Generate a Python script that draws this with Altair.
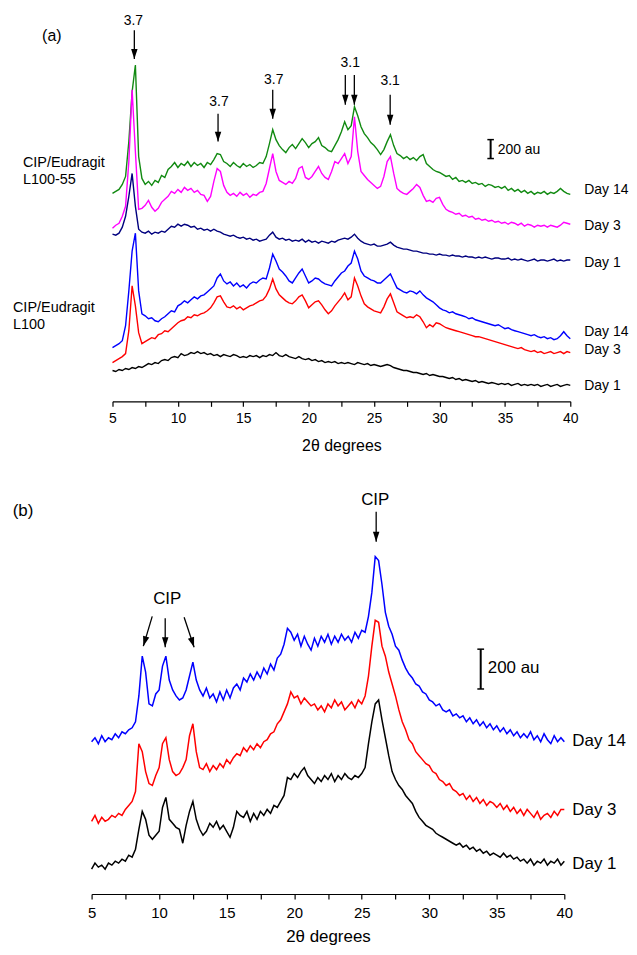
import altair as alt
import pandas as pd

FONT = "Liberation Sans"
START = 5.0      # first 2-theta value of every trace (degrees)
STEP = 0.25      # sampling step of every trace (degrees)

# ---------------- Panel (a): intensities (au), 5..40 deg every 0.25 deg ----------------
a_l10055_day14 = [
    2080, 2100, 2120, 2170, 2250, 2600, 3100, 3370, 2450, 2230, 2170, 2200, 2160, 2210, 2190, 2260, 2240, 2320, 2350, 2390,
    2340, 2380, 2360, 2400, 2350, 2390, 2360, 2380, 2340, 2390, 2370, 2420, 2480, 2470, 2400, 2380, 2350, 2390, 2360, 2340,
    2380, 2350, 2370, 2340, 2360, 2390, 2380, 2450, 2580, 2720, 2620, 2560, 2520, 2490, 2540, 2570, 2530, 2580, 2630, 2590,
    2540, 2580, 2600, 2640, 2560, 2540, 2510, 2500, 2560, 2620, 2700, 2800, 2720, 2760, 2950, 2860, 2750, 2680, 2640, 2590,
    2560, 2520, 2470, 2520, 2600, 2670, 2560, 2480, 2460, 2430, 2450, 2420, 2440, 2410, 2450, 2470, 2380, 2350, 2320, 2300,
    2290, 2270, 2250, 2260, 2220, 2240, 2200, 2210, 2190, 2210, 2180, 2190, 2170, 2180, 2150, 2170, 2160, 2140, 2150, 2130,
    2150, 2110, 2130, 2100, 2120, 2090, 2110, 2080, 2100, 2070, 2090, 2080, 2100, 2070, 2090, 2080, 2100, 2130, 2100, 2080,
    2070]
a_l10055_day3 = [
    1730, 1760, 1780, 1850, 1950, 2400, 3120, 2500, 1920, 1930, 1960, 2010, 1940, 1900, 1930, 1990, 2020, 2050, 2100, 2080,
    2120, 2090, 2140, 2110, 2130, 2090, 2110, 2070, 2060, 2000, 2050, 2200, 2330, 2300, 2160, 2090, 2060, 2080, 2050, 2090,
    2060, 2080, 2040, 2070, 2060, 2090, 2100, 2180, 2330, 2480, 2300, 2210, 2190, 2170, 2200, 2180, 2230, 2330, 2350, 2240,
    2220, 2250, 2300, 2350, 2280, 2240, 2220, 2300, 2400, 2380, 2430, 2480, 2380, 2450, 2850, 2500, 2300, 2260, 2220, 2190,
    2160, 2130, 2150, 2250, 2400, 2450, 2280, 2130, 2100, 2080, 2070, 2100, 2130, 2170, 2140, 2060, 2000, 2010, 1990, 2030,
    2040, 1970, 1920, 1900, 1890, 1870, 1880, 1850, 1860, 1840, 1850, 1820, 1830, 1810, 1820, 1800, 1810, 1790, 1800, 1780,
    1790, 1770, 1790, 1780, 1760, 1780, 1750, 1770, 1760, 1740, 1760, 1750, 1760, 1740, 1760, 1750, 1740, 1760, 1790, 1780,
    1770]
a_l10055_day1 = [
    1670, 1660, 1680, 1740, 1850, 2050, 2280, 1950, 1720, 1690, 1680, 1700, 1670, 1690, 1680, 1700, 1690, 1720, 1750, 1740,
    1770, 1750, 1770, 1760, 1740, 1750, 1720, 1730, 1710, 1720, 1700, 1720, 1700, 1690, 1670, 1660, 1650, 1660, 1640, 1630,
    1640, 1620, 1630, 1610, 1620, 1600, 1610, 1620, 1660, 1690, 1640, 1620, 1630, 1610, 1620, 1600, 1610, 1600, 1620, 1590,
    1610, 1590, 1600, 1580, 1600, 1590, 1580, 1600, 1590, 1610, 1620, 1630, 1620, 1640, 1670, 1630, 1600, 1580, 1570, 1560,
    1570, 1550, 1550, 1560, 1570, 1590, 1560, 1540, 1530, 1520, 1520, 1510, 1500, 1500, 1490, 1480, 1480, 1470, 1470, 1460,
    1470, 1460, 1460, 1450, 1460, 1450, 1450, 1440, 1450, 1440, 1440, 1430, 1440, 1430, 1440, 1430, 1420, 1430, 1430, 1420,
    1420, 1430, 1410, 1420, 1410, 1420, 1410, 1400, 1410, 1420, 1400, 1410, 1410, 1400, 1410, 1420, 1400, 1410, 1400, 1410,
    1410]
a_l100_day14 = [
    530, 550, 570, 600, 750, 1100, 1500, 1680, 1100, 870, 850, 820, 830, 800, 790, 820, 840, 870, 900, 890,
    950, 970, 1000, 980, 1010, 1040, 1020, 1050, 1060, 1090, 1120, 1150, 1230, 1270, 1200, 1170, 1190, 1150, 1180, 1140,
    1160, 1130, 1170, 1190, 1180, 1210, 1230, 1220, 1330, 1470, 1400, 1320, 1290, 1250, 1200, 1180, 1230, 1280, 1320, 1250,
    1180, 1200, 1230, 1220, 1190, 1170, 1160, 1150, 1200, 1240, 1280, 1300, 1350, 1380, 1500, 1420, 1300, 1250, 1230, 1210,
    1200, 1180, 1180, 1210, 1240, 1270, 1200, 1130, 1110, 1090, 1080, 1100, 1090, 1070, 1100, 1060, 1030, 1010, 990, 960,
    930, 910, 900, 880, 890, 870, 860, 850, 840, 820, 830, 810, 800, 790, 780, 770, 760, 750, 760, 740,
    720, 730, 710, 700, 690, 680, 670, 660, 650, 660, 640, 630, 640, 620, 630, 610, 620, 650, 690, 650,
    620]
a_l100_day3 = [
    380, 400, 420, 440, 470, 700, 1150, 950, 680, 570, 590, 610, 630, 620, 660, 670, 700, 690, 720, 750,
    780, 800, 810, 840, 830, 860, 850, 870, 880, 900, 930, 980, 1040, 1050, 990, 940, 930, 950, 920, 940,
    910, 930, 950, 960, 980, 1000, 1010, 1050, 1120, 1220, 1120, 1060, 1030, 1000, 980, 970, 1000, 1040, 1060, 1000,
    930, 960, 990, 1000, 960, 910, 870, 900, 950, 990, 1030, 1080, 1010, 1040, 1230, 1150, 1050, 970, 940, 920,
    900, 890, 880, 940, 1020, 1070, 980, 890, 870, 850, 830, 840, 830, 860, 840, 790, 730, 760, 740, 780,
    770, 750, 730, 720, 710, 700, 690, 680, 670, 660, 650, 640, 640, 630, 620, 610, 600, 590, 580, 570,
    560, 550, 540, 530, 520, 530, 510, 500, 490, 500, 480, 490, 470, 480, 490, 470, 480, 490, 470, 490,
    480]
a_l100_day1 = [
    300, 290, 310, 300, 320, 310, 330, 320, 340, 330, 350, 370, 360, 380, 370, 400, 410, 400, 430, 440,
    430, 470, 450, 460, 480, 470, 490, 470, 480, 460, 470, 450, 460, 440, 460, 450, 440, 460, 450, 430,
    440, 430, 450, 440, 450, 430, 450, 440, 460, 450, 480, 450, 440, 460, 440, 430, 420, 440, 420, 410,
    420, 400, 410, 390, 400, 380, 390, 380, 390, 370, 380, 370, 380, 370, 360, 380, 370, 360, 370, 350,
    360, 350, 340, 350, 360, 350, 330, 320, 310, 300, 300, 290, 280, 280, 270, 260, 270, 250, 260, 250,
    240, 240, 230, 220, 230, 210, 220, 200, 210, 200, 190, 200, 180, 190, 180, 170, 180, 170, 160, 170,
    160, 170, 150, 160, 170, 150, 160, 150, 160, 150, 160, 140, 150, 160, 140, 150, 160, 140, 150, 160,
    150]

# ---------------- Panel (b): intensities (au), 5..40 deg every 0.25 deg ----------------
b_day14 = [
    770, 790, 760, 800, 770, 790, 780, 810, 790, 820, 810, 830, 840, 870, 1000, 1200, 1120, 960, 950, 1010,
    1030, 1150, 1200, 1080, 1030, 1000, 980, 990, 1030, 1100, 1170, 1080, 1030, 1000, 1040, 990, 1010, 970, 1020, 980,
    1030, 990, 1040, 1060, 1030, 1090, 1070, 1110, 1080, 1120, 1090, 1140, 1110, 1160, 1130, 1190, 1210, 1260, 1340, 1320,
    1280, 1310, 1250, 1300, 1260, 1230, 1290, 1250, 1300, 1270, 1310, 1260, 1300, 1270, 1310, 1280, 1300, 1270, 1320, 1290,
    1330, 1320, 1400, 1520, 1700, 1680, 1560, 1420, 1350, 1310, 1250, 1230, 1180, 1140, 1110, 1090, 1060, 1050, 1020, 1010,
    980, 970, 950, 960, 930, 920, 930, 900, 910, 890, 900, 870, 890, 860, 880, 850, 870, 840, 860, 830,
    850, 820, 840, 810, 830, 800, 820, 790, 810, 790, 820, 780, 800, 770, 810, 780, 760, 800, 770, 790,
    770]
b_day3 = [
    370, 400, 360, 390, 370, 380, 400, 390, 410, 400, 430, 450, 470, 520, 760, 720, 620, 560, 550, 600,
    640, 760, 790, 680, 620, 600, 610, 640, 680, 800, 860, 720, 640, 630, 660, 620, 650, 630, 660, 640,
    680, 660, 690, 710, 700, 740, 720, 750, 730, 760, 740, 770, 780, 810, 820, 860, 880, 920, 960, 1020,
    990, 1000, 960, 990, 970, 950, 960, 930, 950, 920, 960, 940, 980, 950, 970, 930, 950, 970, 940, 980,
    960, 1000, 1100, 1250, 1380, 1370, 1250, 1200, 1120, 1060, 1000, 930, 870, 830, 780, 760, 720, 700, 680, 660,
    650, 620, 610, 580, 570, 550, 560, 530, 520, 500, 510, 480, 500, 470, 490, 460, 480, 450, 470, 460,
    440, 460, 430, 450, 420, 440, 410, 430, 400, 430, 410, 390, 420, 380, 400, 410, 390, 420, 400, 430,
    430]
b_day1 = [
    130, 160, 140, 150, 130, 160, 150, 170, 160, 180, 170, 200, 190, 230, 330, 420, 380, 300, 280, 300,
    320, 440, 490, 380, 360, 340, 330, 260, 350, 420, 470, 380, 330, 300, 320, 360, 340, 370, 330, 350,
    320, 290, 340, 420, 400, 390, 420, 370, 410, 380, 420, 400, 430, 410, 450, 440, 470, 500, 590, 580,
    610, 590, 620, 640, 600, 580, 560, 590, 570, 600, 580, 610, 570, 600, 580, 610, 590, 580, 600, 590,
    610, 640, 760, 870, 960, 980, 880, 790, 700, 620, 580, 550, 530, 500, 480, 460, 420, 390, 370, 350,
    340, 330, 310, 300, 290, 280, 270, 260, 250, 260, 240, 250, 230, 240, 220, 230, 210, 220, 200, 210,
    200, 190, 210, 190, 200, 180, 190, 170, 180, 160, 180, 150, 170, 160, 180, 150, 170, 160, 180, 150,
    170]

# series names and colours
a_series = ["L100-55 Day 14", "L100-55 Day 3", "L100-55 Day 1", "L100 Day 14", "L100 Day 3", "L100 Day 1"]
a_colors = ["#118a11", "#ff00ff", "#00007f", "#0000ff", "#ff0000", "#000000"]
b_series = ["Day 14", "Day 3", "Day 1"]
b_colors = ["#0000ff", "#ff0000", "#000000"]

# x-axis tick positions (labels only at multiples of 5)
tick_values = [5, 7.5, 10, 12.5, 15, 17.5, 20, 22.5, 25, 27.5, 30, 32.5, 35, 37.5, 40]

# ---------------- annotations (data units: degrees, au) ----------------
a_peak_text = ["3.7", "3.7", "3.7", "3.1", "3.1"]
a_peak_text_deg = [6.6, 13.14, 17.33, 23.18, 26.23]
a_peak_text_au = [3810, 3000, 3220, 3390, 3210]
a_arrow_deg = [6.67, 13.07, 17.25, 22.8, 23.49, 26.23]
a_arrow_top = [3720, 2880, 3120, 3270, 3270, 3070]
a_arrow_tip = [3430, 2600, 2830, 2970, 2970, 2770]

a_day_text = ["Day 14", "Day 3", "Day 1", "Day 14", "Day 3", "Day 1"]
a_day_au = [2110, 1750, 1380, 690, 510, 140]
a_group_text = ["CIP/Eudragit", "L100-55", "CIP/Eudragit", "L100"]
a_group_deg = [-1.85, -1.85, -2.61, -2.61]
a_group_au = [2390, 2210, 930, 760]

b_cip_text = ["CIP", "CIP"]
b_cip_deg = [26.0, 10.6]
b_cip_au = [1985, 1485]
b_arrow_deg = [26.07, 9.49, 10.45, 11.85]
b_arrow_deg2 = [26.07, 8.83, 10.45, 12.59]
b_arrow_top = [1925, 1400, 1390, 1395]
b_arrow_tip = [1775, 1250, 1245, 1245]
b_arrow_angle = [0, 16.7, 0, 341.6]
b_day_au = [775, 425, 155]

ARROW = "M -0.65 -2 L 0.65 -2 L 0 0 Z"


def trace(vals, name):
    return pd.DataFrame({"deg": [START + STEP * i for i in range(len(vals))],
                         "au": vals, "series": name})


def axis_x(label_size, title_size, label_pad, title_pad):
    return alt.Axis(values=tick_values,
                    labelExpr="datum.value % 5 === 0 ? datum.label : ''",
                    title="2θ degrees", grid=False, tickSize=5, tickWidth=1.2,
                    domainWidth=1.2, tickColor="black", domainColor="black",
                    labelColor="black", titleColor="black", labelFont=FONT,
                    titleFont=FONT, labelFontSize=label_size, titleFontSize=title_size,
                    titleFontWeight="normal", labelPadding=label_pad,
                    titlePadding=title_pad, labelOverlap=False, labelFlush=False)


class Panel:
    def __init__(self, xs, ys, axis):
        self.xs, self.ys, self.axis = xs, ys, axis

    def X(self):
        return alt.X("deg:Q", scale=self.xs, axis=self.axis)

    def Y(self, field="au"):
        return alt.Y(field + ":Q", scale=self.ys, axis=None)

    def text(self, df, size, align="center"):
        return alt.Chart(df).mark_text(font=FONT, fontSize=size, align=align,
                                       baseline="middle", color="black").encode(
            x=self.X(), y=self.Y(), text="label:N")

    def scale_bar(self, deg, au_top, au_bot, text_deg, text_au, size):
        bar = pd.DataFrame({"deg": [deg], "au": [au_top], "au2": [au_bot]})
        caps = pd.DataFrame({"deg": [deg - 0.25, deg - 0.25], "deg2": [deg + 0.25, deg + 0.25],
                             "au": [au_top, au_bot]})
        lab = pd.DataFrame({"deg": [text_deg], "au": [text_au], "label": ["200 au"]})
        v = alt.Chart(bar).mark_rule(color="black", strokeWidth=2).encode(
            x=self.X(), y=self.Y(), y2="au2:Q")
        h = alt.Chart(caps).mark_rule(color="black", strokeWidth=1.5).encode(
            x=self.X(), x2="deg2:Q", y=self.Y())
        return v + h + self.text(lab, size, "left")

    def arrows(self, df):
        # df: deg (start x), deg2 (tip x), au (start y), au2 (tip y), ang
        shafts = alt.Chart(df).mark_rule(color="black", strokeWidth=1.3).encode(
            x=self.X(), x2="deg2:Q", y=self.Y(), y2="au2:Q")
        heads_df = pd.DataFrame({"deg": df["deg2"], "au": df["au2"], "ang": df["ang"]})
        heads = alt.Chart(heads_df).mark_point(shape=ARROW, filled=True, size=100, color="black",
                                               opacity=1, strokeWidth=0).encode(
            x=self.X(), y=self.Y(), angle=alt.Angle("ang:Q", scale=None))
        return shafts + heads

    def lines(self, df, domain, colors, width):
        return alt.Chart(df).mark_line(strokeWidth=width).encode(
            x=self.X(), y=self.Y(),
            color=alt.Color("series:N", scale=alt.Scale(domain=domain, range=colors), legend=None),
            detail="series:N")


# ================= Panel (a) =================
pa = Panel(alt.Scale(domain=[5, 40], range=[105, 565], nice=False, zero=False),
           alt.Scale(domain=[-10, 3920], nice=False, zero=False),
           axis_x(14, 16, 5, 12))

a_df = pd.concat([trace(a_l10055_day14, a_series[0]), trace(a_l10055_day3, a_series[1]),
                  trace(a_l10055_day1, a_series[2]), trace(a_l100_day14, a_series[3]),
                  trace(a_l100_day3, a_series[4]), trace(a_l100_day1, a_series[5])])

a_arr = pd.DataFrame({"deg": a_arrow_deg, "deg2": a_arrow_deg, "au": a_arrow_top,
                      "au2": a_arrow_tip, "ang": [0] * len(a_arrow_deg)})

panel_a = alt.layer(
    pa.lines(a_df, a_series, a_colors, 1.4),
    pa.arrows(a_arr),
    pa.text(pd.DataFrame({"deg": a_peak_text_deg, "au": a_peak_text_au, "label": a_peak_text}), 14),
    pa.text(pd.DataFrame({"deg": [0.36], "au": [3660], "label": ["(a)"]}), 16),
    pa.text(pd.DataFrame({"deg": [41.07] * 6, "au": a_day_au, "label": a_day_text}), 14, "left"),
    pa.text(pd.DataFrame({"deg": a_group_deg, "au": a_group_au, "label": a_group_text}), 14.5, "left"),
    pa.scale_bar(33.91, 2620, 2430, 34.45, 2520, 14),
).properties(width=620, height=393)

# ================= Panel (b) =================
pb = Panel(alt.Scale(domain=[5, 40], range=[84, 559], nice=False, zero=False),
           alt.Scale(domain=[5, 2110], nice=False, zero=False),
           axis_x(15, 17, 7, 8))

b_df = pd.concat([trace(b_day14, b_series[0]), trace(b_day3, b_series[1]), trace(b_day1, b_series[2])])
b_arr = pd.DataFrame({"deg": b_arrow_deg, "deg2": b_arrow_deg2, "au": b_arrow_top,
                      "au2": b_arrow_tip, "ang": b_arrow_angle})

panel_b = alt.layer(
    pb.lines(b_df, b_series, b_colors, 1.5),
    pb.arrows(b_arr),
    pb.text(pd.DataFrame({"deg": b_cip_deg, "au": b_cip_au, "label": b_cip_text}), 17),
    pb.text(pd.DataFrame({"deg": [-0.08], "au": [1930], "label": ["(b)"]}), 17),
    pb.text(pd.DataFrame({"deg": [40.59] * 3, "au": b_day_au, "label": b_series}), 17, "left"),
    pb.scale_bar(33.81, 1235, 1035, 34.33, 1140, 17),
).properties(width=620, height=421)

chart = alt.vconcat(panel_a, panel_b, spacing=74, bounds="flush").resolve_scale(
    color="independent"
).properties(padding=0, background="white").configure_view(stroke=None)

chart.save("out.html", embed_options={"renderer": "svg", "actions": False})
